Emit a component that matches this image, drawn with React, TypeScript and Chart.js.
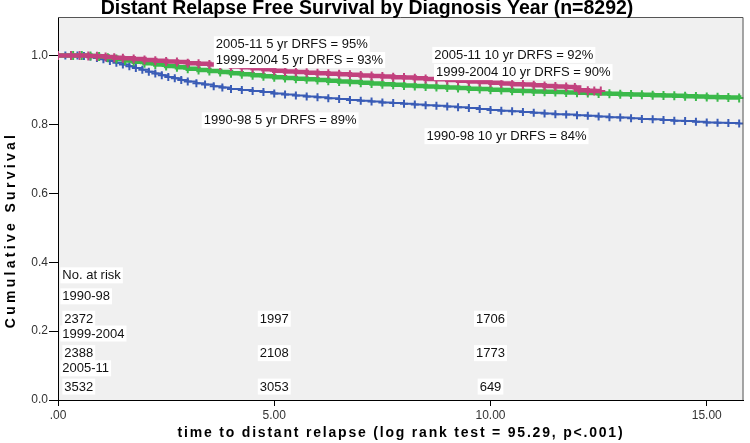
import React, { useEffect, useRef } from "react";
import { Chart, registerables } from "chart.js";

Chart.register(...registerables);

const FONT = '"Liberation Sans", Arial, sans-serif';

// Axis ticks
const yTicks = [0, 0.2, 0.4, 0.6, 0.8, 1.0];
const xTicks = [0, 5, 10, 15];
const xTickLabels = [".00", "5.00", "10.00", "15.00"];

// Kaplan-Meier curves (time in years, cumulative survival)
const magentaT = [0, 0.3, 0.5, 0.7, 0.9, 1.1, 1.3, 1.5, 1.75, 2.0, 2.25, 2.5, 2.75, 3.0, 3.25, 3.5, 3.75, 4.0, 4.25, 4.5, 4.75, 5.0, 5.25, 5.5, 5.75, 6.0, 6.25, 6.5, 6.75, 7.0, 7.25, 7.5, 7.75, 8.0, 8.25, 8.5, 8.75, 9.0, 9.25, 9.5, 9.75, 10.0, 10.25, 10.5, 10.75, 11.0, 11.25, 11.5, 11.75, 11.95, 12.05, 12.25, 12.4, 12.55];
const magentaS = [1.0, 1.0, 1.0, 0.999, 0.998, 0.996, 0.994, 0.992, 0.99, 0.987, 0.985, 0.983, 0.981, 0.978, 0.976, 0.974, 0.971, 0.968, 0.966, 0.963, 0.96, 0.956, 0.954, 0.952, 0.95, 0.949, 0.947, 0.946, 0.944, 0.942, 0.941, 0.939, 0.937, 0.936, 0.934, 0.932, 0.931, 0.929, 0.927, 0.925, 0.923, 0.921, 0.919, 0.917, 0.916, 0.914, 0.912, 0.91, 0.909, 0.907, 0.899, 0.898, 0.897, 0.897];

const greenT = [0, 0.35, 0.55, 0.75, 0.95, 1.15, 1.35, 1.55, 1.75, 2.0, 2.25, 2.5, 2.75, 3.0, 3.25, 3.5, 3.75, 4.0, 4.25, 4.5, 4.75, 5.0, 5.25, 5.5, 5.75, 6.0, 6.25, 6.5, 6.75, 7.0, 7.25, 7.5, 7.75, 8.0, 8.25, 8.5, 8.75, 9.0, 9.25, 9.5, 9.75, 10.0, 10.25, 10.5, 10.75, 11.0, 11.25, 11.5, 11.75, 12.0, 12.25, 12.5, 12.75, 13.0, 13.25, 13.5, 13.75, 14.0, 14.25, 14.5, 14.75, 15.0, 15.25, 15.5, 15.75];
const greenS = [1.0, 1.0, 1.0, 0.999, 0.997, 0.994, 0.99, 0.986, 0.982, 0.978, 0.974, 0.97, 0.966, 0.962, 0.958, 0.955, 0.952, 0.949, 0.946, 0.943, 0.94, 0.937, 0.935, 0.933, 0.931, 0.929, 0.927, 0.925, 0.923, 0.921, 0.919, 0.917, 0.915, 0.913, 0.912, 0.91, 0.909, 0.907, 0.906, 0.904, 0.903, 0.901, 0.9, 0.898, 0.897, 0.896, 0.895, 0.894, 0.893, 0.892, 0.891, 0.89, 0.889, 0.888, 0.887, 0.886, 0.885, 0.884, 0.883, 0.882, 0.881, 0.88, 0.879, 0.878, 0.877];

const blueT = [0, 0.17, 0.45, 0.6, 0.75, 0.9, 1.05, 1.2, 1.35, 1.5, 1.65, 1.8, 1.95, 2.1, 2.25, 2.4, 2.55, 2.7, 2.85, 3.0, 3.2, 3.4, 3.6, 3.8, 4.0, 4.25, 4.5, 4.75, 5.0, 5.25, 5.5, 5.75, 6.0, 6.25, 6.5, 6.75, 7.0, 7.25, 7.5, 7.75, 8.0, 8.25, 8.5, 8.75, 9.0, 9.25, 9.5, 9.75, 10.0, 10.25, 10.5, 10.75, 11.0, 11.25, 11.5, 11.75, 12.0, 12.25, 12.5, 12.75, 13.0, 13.25, 13.5, 13.75, 14.0, 14.25, 14.5, 14.75, 15.0, 15.25, 15.5, 15.75];
const blueS = [1.0, 1.0, 1.0, 0.999, 0.997, 0.993, 0.989, 0.984, 0.979, 0.974, 0.969, 0.964, 0.959, 0.953, 0.948, 0.943, 0.938, 0.934, 0.929, 0.925, 0.92, 0.916, 0.911, 0.907, 0.903, 0.9, 0.897, 0.894, 0.89, 0.887, 0.884, 0.881, 0.879, 0.876, 0.874, 0.871, 0.869, 0.867, 0.864, 0.862, 0.86, 0.858, 0.856, 0.854, 0.852, 0.85, 0.848, 0.845, 0.842, 0.84, 0.838, 0.836, 0.834, 0.832, 0.83, 0.829, 0.827, 0.825, 0.823, 0.821, 0.82, 0.818, 0.816, 0.815, 0.813, 0.811, 0.81, 0.808, 0.806, 0.805, 0.804, 0.803];

// Annotations (anchored in data coordinates: left edge time, centre survival)
const annoTexts = [
  "2005-11 5 yr DRFS = 95%",
  "1999-2004 5 yr DRFS = 93%",
  "2005-11 10 yr DRFS = 92%",
  "1999-2004 10 yr DRFS = 90%",
  "1990-98 5 yr DRFS = 89%",
  "1990-98 10 yr DRFS = 84%",
];
const annoT = [3.65, 3.65, 8.7, 8.74, 3.37, 8.52];
const annoS = [1.033, 0.987, 1.002, 0.952, 0.812, 0.766];

// Number at risk table
const riskHeader = "No. at risk";
const riskGroups = ["1990-98", "1999-2004", "2005-11"];
const riskTimes = [0, 5, 10];
const riskCounts = [
  [2372, 1997, 1706],
  [2388, 2108, 1773],
  [3532, 3053, 649],
];
const riskHeaderS = 0.362;
const riskGroupS = [0.301, 0.193, 0.092];
const riskCountS = [0.236, 0.136, 0.039];

const MAGENTA = "#c2417e";
const GREEN = "#3bb94a";
const BLUE = "#3a5cb6";

const TITLE = "Distant Relapse Free Survival by Diagnosis Year (n=8292)";
const X_TITLE = "time to distant relapse (log rank test = 95.29, p<.001)";
const Y_TITLE = "Cumulative Survival";

function boxText(ctx: CanvasRenderingContext2D, text: string, x: number, y: number, align: "left" | "center") {
  ctx.font = `13px ${FONT}`;
  const w = ctx.measureText(text).width;
  const left = align === "center" ? x - w / 2 : x;
  ctx.fillStyle = "#ffffff";
  ctx.fillRect(left - 2, y - 8, w + 4, 16);
  ctx.fillStyle = "#111111";
  ctx.textAlign = "left";
  ctx.textBaseline = "middle";
  ctx.fillText(text, left, y + 0.5);
}

const decorPlugin = {
  id: "decor",
  beforeDraw(chart: any) {
    const { ctx, chartArea: a } = chart;
    ctx.save();
    ctx.fillStyle = "#ffffff";
    ctx.fillRect(0, 0, chart.width, chart.height);
    ctx.fillStyle = "#f0f0f0";
    ctx.fillRect(a.left, a.top, a.right - a.left, a.bottom - a.top);
    ctx.restore();
  },
  afterDraw(chart: any) {
    const { ctx, chartArea: a, scales } = chart;
    const xs = scales.x;
    const ys = scales.y;
    ctx.save();
    // frame top/right
    ctx.strokeStyle = "#555555";
    ctx.lineWidth = 1;
    ctx.beginPath();
    ctx.moveTo(a.left, a.top + 0.5);
    ctx.lineTo(a.right - 0.5, a.top + 0.5);
    ctx.lineTo(a.right - 0.5, a.bottom);
    ctx.stroke();

    // annotations
    annoTexts.forEach((t, i) => {
      boxText(ctx, t, xs.getPixelForValue(annoT[i]), ys.getPixelForValue(annoS[i]), "left");
    });

    // at-risk table
    const firstLeft = xs.getPixelForValue(0.1);
    boxText(ctx, riskHeader, firstLeft, ys.getPixelForValue(riskHeaderS), "left");
    riskGroups.forEach((g, gi) => {
      boxText(ctx, g, firstLeft, ys.getPixelForValue(riskGroupS[gi]), "left");
      riskTimes.forEach((t, ti) => {
        const y = ys.getPixelForValue(riskCountS[gi]);
        if (t === 0) {
          boxText(ctx, String(riskCounts[gi][ti]), firstLeft + 2, y, "left");
        } else {
          boxText(ctx, String(riskCounts[gi][ti]), xs.getPixelForValue(t), y, "center");
        }
      });
    });

    // main title
    ctx.fillStyle = "#000000";
    ctx.font = `bold 19.5px ${FONT}`;
    ctx.textAlign = "center";
    ctx.textBaseline = "alphabetic";
    ctx.fillText(TITLE, 367, 14);

    // x title
    ctx.font = `bold 14px ${FONT}`;
    (ctx as any).letterSpacing = "1.8px";
    ctx.textBaseline = "middle";
    ctx.fillText(X_TITLE, 401, 433);

    // y title
    (ctx as any).letterSpacing = "3.3px";
    ctx.translate(11, 230);
    ctx.rotate(-Math.PI / 2);
    ctx.fillText(Y_TITLE, 0, 0);
    ctx.restore();
  },
};

export default function App() {
  const ref = useRef<HTMLCanvasElement>(null);
  useEffect(() => {
    document.body.style.margin = "0";
    const canvas = ref.current!;
    const mk = (T: number[], S: number[]) => T.map((t, i) => ({ x: t, y: S[i] }));
    const line = (label: string, T: number[], S: number[], color: string, bw: number, pr: number) => ({
      label,
      data: mk(T, S),
      borderColor: color,
      backgroundColor: color,
      stepped: true,
      borderWidth: bw,
      pointStyle: "cross",
      pointRadius: pr,
      pointBorderWidth: 2,
      pointBorderColor: color,
      pointBackgroundColor: color,
      fill: false,
    });
    const chart = new Chart(canvas, {
      type: "line",
      data: {
        datasets: [
          line("2005-11", magentaT, magentaS, MAGENTA, 4.5, 4.5),
          line("1999-2004", greenT, greenS, GREEN, 4.5, 4.5),
          line("1990-98", blueT, blueS, BLUE, 2, 4),
        ] as any,
      },
      options: {
        responsive: false,
        animation: false,
        layout: { padding: { top: 17, right: 2, left: 0, bottom: 0 } },
        plugins: { legend: { display: false }, tooltip: { enabled: false }, title: { display: false } },
        scales: {
          x: {
            type: "linear",
            min: 0,
            max: 15.85,
            afterBuildTicks: (s: any) => {
              s.ticks = xTicks.map((v) => ({ value: v }));
            },
            afterFit: (s: any) => {
              s.height = 43;
            },
            grid: { drawOnChartArea: false, drawTicks: true, tickLength: 6, color: "#000000", lineWidth: 1 },
            border: { display: true, color: "#000000", width: 1 },
            ticks: {
              font: { family: FONT, size: 12 },
              color: "#333333",
              padding: 2,
              maxRotation: 0,
              autoSkip: false,
              callback: (_v: any, i: number) => xTickLabels[i],
            },
          },
          y: {
            type: "linear",
            min: 0,
            max: 1.112,
            afterBuildTicks: (s: any) => {
              s.ticks = yTicks.map((v) => ({ value: v }));
            },
            afterFit: (s: any) => {
              s.width = 58;
            },
            grid: { drawOnChartArea: false, drawTicks: true, tickLength: 9, color: "#000000", lineWidth: 1 },
            border: { display: true, color: "#000000", width: 1 },
            ticks: {
              font: { family: FONT, size: 12 },
              color: "#333333",
              padding: 1,
              autoSkip: false,
              callback: (v: any) => Number(v).toFixed(1),
            },
          },
        },
      } as any,
      plugins: [decorPlugin],
    });
    return () => chart.destroy();
  }, []);
  return <canvas ref={ref} width={750} height={443} style={{ display: "block", width: 750, height: 443 }} />;
}
